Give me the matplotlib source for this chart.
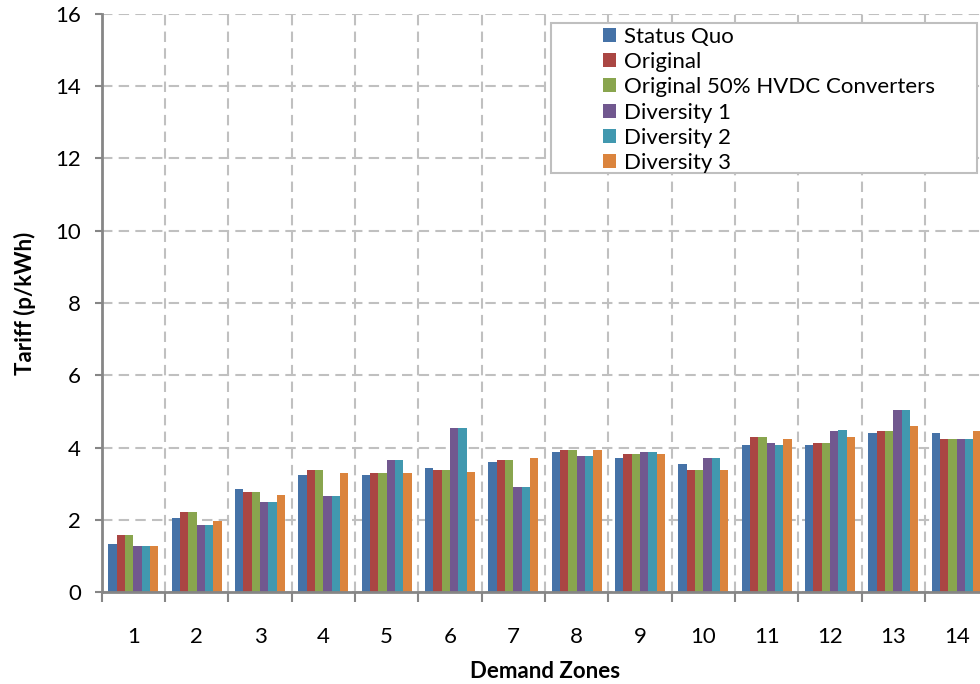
import numpy as np
import matplotlib.pyplot as plt
from matplotlib.patches import Rectangle

zones = [str(i) for i in range(1, 15)]
status_quo = [1.32, 2.04, 2.84, 3.23, 3.23, 3.43, 3.59, 3.87, 3.70, 3.54, 4.06, 4.06, 4.40, 4.40]
original = [1.57, 2.21, 2.78, 3.37, 3.29, 3.37, 3.65, 3.93, 3.81, 3.37, 4.28, 4.12, 4.45, 4.23]
original_50 = [1.57, 2.21, 2.78, 3.37, 3.29, 3.37, 3.65, 3.93, 3.81, 3.37, 4.28, 4.12, 4.45, 4.23]
diversity1 = [1.26, 1.85, 2.48, 2.65, 3.65, 4.53, 2.90, 3.76, 3.87, 3.70, 4.12, 4.45, 5.03, 4.23]
diversity2 = [1.26, 1.85, 2.48, 2.65, 3.65, 4.53, 2.90, 3.76, 3.87, 3.70, 4.06, 4.48, 5.03, 4.23]
diversity3 = [1.26, 1.96, 2.68, 3.29, 3.29, 3.32, 3.70, 3.93, 3.81, 3.37, 4.23, 4.28, 4.59, 4.45]

series = [status_quo, original, original_50, diversity1, diversity2, diversity3]
labels = ['Status Quo', 'Original', 'Original 50% HVDC Converters',
          'Diversity 1', 'Diversity 2', 'Diversity 3']
colors = ['#4572A7', '#AA4643', '#89A54E', '#71588F', '#4198AF', '#DB843D']

plt.rcParams['font.family'] = ['Lato', 'DejaVu Sans']

fig = plt.figure(figsize=(9.8, 6.84), dpi=100)
ax = fig.add_axes([101.7 / 980, 92 / 684, 886.7 / 980, 578 / 684])

x = np.arange(1, len(zones) + 1)
w = 0.132
handles = []
for i, (vals, lab, c) in enumerate(zip(series, labels, colors)):
    h = ax.bar(x + (i - 2.5) * w, vals, width=w, color=c, label=lab, zorder=2)
    handles.append(h)

ax.set_xlim(0.5, 14.5)
ax.set_ylim(0, 16)
ax.set_yticks(np.arange(0, 17, 2))
ax.set_xticks(x)
ax.set_xticklabels(zones)
ax.set_xticks(np.arange(0.5, 15, 1), minor=True)

grid_kw = dict(color='#C0C0C0', linewidth=1.5, linestyle=(0, (5, 3)))
ax.yaxis.grid(True, **grid_kw)
ax.xaxis.grid(True, which='minor', **grid_kw)
ax.set_axisbelow(True)

for s in ['top', 'right']:
    ax.spines[s].set_visible(False)
for s in ['left', 'bottom']:
    ax.spines[s].set_color('#868686')
    ax.spines[s].set_linewidth(2)

ax.tick_params(axis='x', which='major', length=0, pad=25, labelsize=16)
ax.tick_params(axis='x', which='minor', length=7, width=1.5, color='#868686', direction='out')
ax.tick_params(axis='y', length=5, width=1.5, color='#868686', pad=10, labelsize=16)

ax.set_xlabel('Demand Zones', fontsize=16, fontweight='bold', labelpad=10)
ax.set_ylabel('Tariff (p/kWh)', fontsize=16, fontweight='bold', labelpad=14)

# legend box
fig.patches.append(Rectangle((551 / 980, 1 - 173 / 684), 426 / 980, 150 / 684,
                             transform=fig.transFigure, facecolor='white',
                             edgecolor='#BFBFBF', linewidth=1.5, zorder=5))
leg = fig.legend(handles=handles, labels=labels, loc='upper left',
                 bbox_to_anchor=(587 / 980, 1 - 11 / 684), frameon=False,
                 fontsize=16, handlelength=0.6, handleheight=0.6,
                 handletextpad=0.35, labelspacing=0.24, borderpad=0.2)
leg.set_zorder(6)

fig.savefig('out.png', dpi=100)
